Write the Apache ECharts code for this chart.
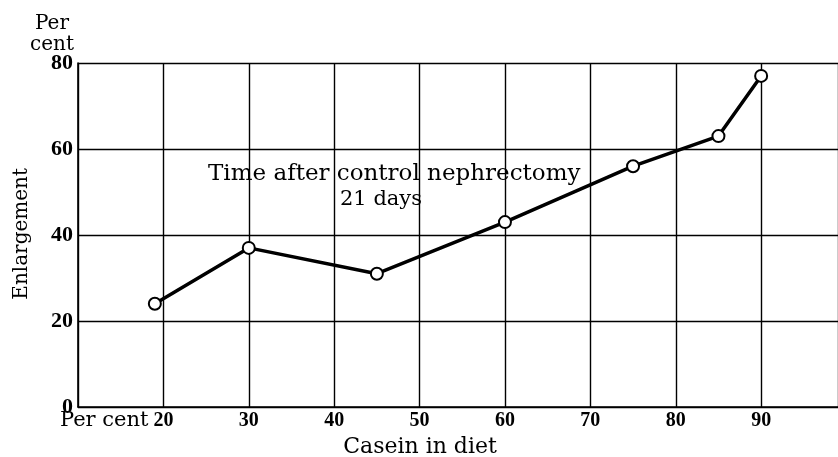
<!DOCTYPE html>
<html>
<head>
<meta charset="utf-8">
<script src="https://cdn.jsdelivr.net/npm/echarts@6/dist/echarts.min.js"></script>
<style>html,body{margin:0;padding:0;background:#fff}#c{width:838px;height:457px}</style>
</head>
<body>
<div id="c"></div>
<script>
const caseinPct = [19, 30, 45, 60, 75, 85, 90];
const enlargementPct = [24, 37, 31, 43, 56, 63, 77];
const xTickValues = [10, 20, 30, 40, 50, 60, 70, 80, 90, 99];
const xTickLabels = ['', '20', '30', '40', '50', '60', '70', '80', '90', ''];
const yTickValues = [0, 20, 40, 60, 80];
const yTickLabels = ['0', '20', '40', '60', '80'];
const xTitle = 'Casein in diet';
const yTitle = 'Enlargement';
const yUnit = 'Per\ncent';
const xUnit = 'Per cent';
const noteLine1 = 'Time after control nephrectomy';
const noteLine2 = '21 days';

const chart = echarts.init(document.getElementById('c'), null, {renderer: 'canvas'});
const wordFont = '"DejaVu Serif", serif';
const numFont = '"Liberation Serif", serif';
chart.setOption({
  backgroundColor: '#fff',
  animation: false,
  grid: {left: 78, top: 63, right: 0, bottom: 50, containLabel: false, outerBoundsMode: 'none'},
  xAxis: {
    type: 'value', min: 10, max: 99, interval: 10,
    axisLine: {show: true, lineStyle: {color: '#000', width: 1.6}},
    axisTick: {show: false},
    splitLine: {show: true, lineStyle: {color: '#000', width: 1.4}},
    axisLabel: {
      color: '#000', fontFamily: numFont, fontSize: 20, fontWeight: 'bold', margin: 4,
      formatter: v => { const i = xTickValues.indexOf(v); return i >= 0 ? xTickLabels[i] : ''; }
    },
    name: xTitle, nameLocation: 'middle', nameGap: 29,
    nameTextStyle: {color: '#000', fontFamily: wordFont, fontSize: 22, padding: [0, 0, 0, -76]}
  },
  yAxis: {
    type: 'value', min: 0, max: 80, interval: 20,
    axisLine: {show: true, lineStyle: {color: '#000', width: 1.6}},
    axisTick: {show: false},
    splitLine: {show: true, lineStyle: {color: '#000', width: 1.4}},
    axisLabel: {
      color: '#000', fontFamily: numFont, fontSize: 22, fontWeight: 'bold', margin: 5,
      formatter: v => { const i = yTickValues.indexOf(v); return i >= 0 ? yTickLabels[i] : ''; }
    }
  },
  graphic: [
    {type: 'text', left: 30, top: 13, style: {text: yUnit, font: '20px ' + wordFont, fill: '#000', lineHeight: 21, textAlign: 'center'}},
    {type: 'text', left: 12, top: 168, style: {text: yTitle, font: '20px ' + wordFont, fill: '#000'}, rotation: Math.PI / 2},
    {type: 'text', left: 60, top: 410, style: {text: xUnit, font: '21px ' + wordFont, fill: '#000'}},
    {type: 'text', left: 208, top: 163, style: {text: noteLine1, font: '23px ' + wordFont, fill: '#000'}},
    {type: 'text', left: 340, top: 189, style: {text: noteLine2, font: '21px ' + wordFont, fill: '#000'}}
  ],
  series: [{
    type: 'line',
    data: caseinPct.map((x, i) => [x, enlargementPct[i]]),
    lineStyle: {color: '#000', width: 3.5},
    symbol: 'circle', symbolSize: 12,
    itemStyle: {color: '#fff', borderColor: '#000', borderWidth: 2},
    z: 5
  }]
});
</script>
</body>
</html>
